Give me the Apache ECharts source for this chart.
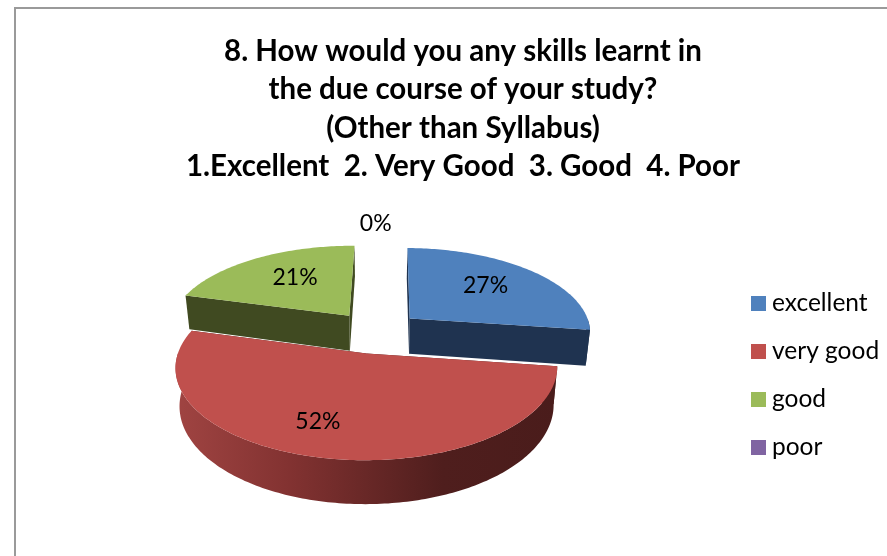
<!DOCTYPE html>
<html><head><meta charset="utf-8">
<style>html,body{margin:0;padding:0;background:#fff}#c{width:887px;height:556px}</style>
<script src="https://cdn.jsdelivr.net/npm/echarts@6/dist/echarts.min.js"></script>
</head><body><div id="c"></div>
<script>
const categories = ['excellent', 'very good', 'good', 'poor'];
const shares = [27, 52, 21, 0];
const percentLabels = ['27%', '52%', '21%', '0%'];
const titleLines = ['8. How would you any skills learnt in', 'the due course of your study?', '(Other than Syllabus)', '1.Excellent  2. Very Good  3. Good  4. Poor'];

const topColors = ['#4F81BD', '#C0504D', '#9BBB59', '#8064A2'];
const wallColors = ['#1F3350', '#4A1C1B', '#404A21', '#4D3C62'];
const FONT = 'Lato, Carlito, "Open Sans", sans-serif';

// Perspective pie model
const M = {cx:376, vy:-250, h:582, a:182, k:0.145, e:0.25, depth:36, shrink:0.98, rot:0.7 * Math.PI / 180};
function proj(X, Y, bottom) {
  const w = 1 - M.k * Y;
  const s = bottom ? M.shrink : 1;
  return [M.cx + M.a * X * s / w, M.vy + (M.h + (bottom ? M.depth : 0)) / w];
}
const total = shares.reduce((a, b) => a + b, 0);
const labelNudge = [[1,-3],[-23,10],[4,-2],[-3,-4]];
const labelR = [0.6, 0.6, 0.6, 1.26];

function sliceRender(idx) {
  return function (params, api) {
    const val = api.value(0);
    let before = 0;
    for (let i = 0; i < idx; i++) before += shares[i];
    const a0 = before / total * 2 * Math.PI + M.rot;
    const a1 = (before + val) / total * 2 * Math.PI + M.rot;
    const mid = (a0 + a1) / 2;
    const ox = Math.sin(mid) * M.e, oy = -Math.cos(mid) * M.e;
    const pt = (a, r, b) => proj(ox + Math.sin(a) * r, oy - Math.cos(a) * r, b);
    const children = [];
    const step = Math.PI / 180;
    if (val > 0) {
      // radial walls
      [a0, a1].forEach((a) => {
        const p = [pt(a,0,false), pt(a,1,false), pt(a,1,true), pt(a,0,true)];
        children.push({type:'polygon', shape:{points:p}, style:{fill:wallColors[idx]}, z2:1, silent:true});
      });
      // outer wall (viewer-facing part)
      const lo = Math.max(a0, Math.PI / 2), hi = Math.min(a1, Math.PI * 1.5);
      if (hi > lo) {
        const upper = [], lower = [];
        for (let a = lo; a < hi; a += step) { upper.push(pt(a,1,false)); lower.push(pt(a,1,true)); }
        upper.push(pt(hi,1,false)); lower.push(pt(hi,1,true));
        const fill = idx === 1 ? new echarts.graphic.LinearGradient(0,0,1,0,[
          {offset:0,color:'#A04442'},{offset:0.3,color:'#823231'},{offset:0.7,color:'#4F1E1D'},{offset:1,color:'#4A1C1B'}
        ]) : wallColors[idx];
        children.push({type:'polygon', shape:{points:upper.concat(lower.reverse())}, style:{fill}, z2:2, silent:true});
      }
      // top face
      const face = [pt(a0,0,false)];
      for (let a = a0; a < a1; a += step) face.push(pt(a,1,false));
      face.push(pt(a1,1,false));
      children.push({type:'polygon', shape:{points:face}, style:{fill:topColors[idx]}, z2:3, silent:true});
    }
    const lp = pt(mid, labelR[idx], false);
    children.push({type:'text', z2:5, silent:true, style:{
      x: lp[0] + labelNudge[idx][0], y: lp[1] + labelNudge[idx][1],
      text: percentLabels[idx], fill:'#000', font:'23px ' + FONT, align:'center', verticalAlign:'middle'
    }});
    return {type:'group', children};
  };
}

const zOrder = [3, 2, 3, 4];
const chart = echarts.init(document.getElementById('c'), null, {renderer:'canvas'});
chart.setOption({
  animation:false,
  backgroundColor:'#fff',
  title:{
    text:titleLines.join('\n'), left:458, top:27, textAlign:'center',
    textStyle:{fontFamily:FONT, fontWeight:'bold', fontSize:29.5, lineHeight:38.4, color:'#000'}
  },
  legend:{
    orient:'vertical', left:746, top:286, icon:'rect', itemWidth:15, itemHeight:15, itemGap:23,
    data:categories, selectedMode:false,
    textStyle:{fontFamily:FONT, fontSize:24.5, color:'#000', padding:[0,0,0,1]}
  },
  graphic:[
    {type:'line', shape:{x1:15,y1:8,x2:15,y2:556}, style:{stroke:'#9a9a9a',lineWidth:2}},
    {type:'line', shape:{x1:14,y1:8,x2:887,y2:8}, style:{stroke:'#9a9a9a',lineWidth:2}}
  ],
  series:categories.map((name,i)=>({
    type:'custom', name, coordinateSystem:'none', z:zOrder[i], silent:true,
    itemStyle:{color:topColors[i]},
    data:[[shares[i]]],
    renderItem:sliceRender(i)
  }))
});
</script></body></html>
